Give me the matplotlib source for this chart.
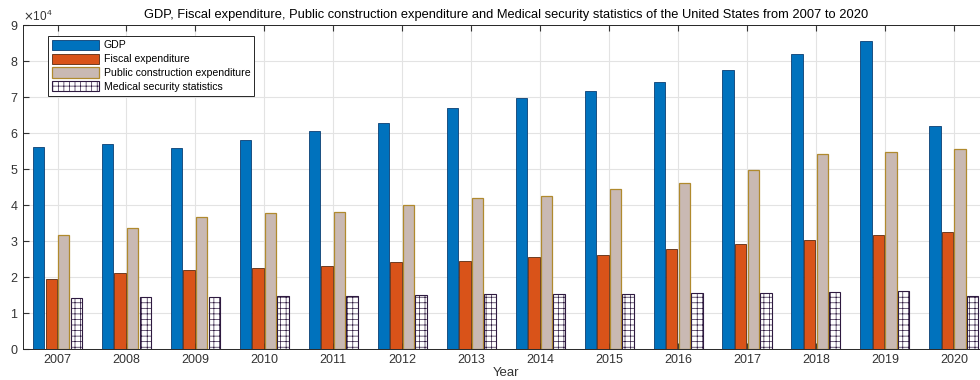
import numpy as np
import matplotlib
matplotlib.use('Agg')
import matplotlib.pyplot as plt
from matplotlib.ticker import ScalarFormatter

plt.rcParams['font.family'] = ['Liberation Sans', 'DejaVu Sans']
plt.rcParams['hatch.linewidth'] = 0.5

# Datos
years = np.arange(2007, 2021)
gdp = [56000, 57000, 55700, 58000, 60500, 62800, 67000, 69700, 71700, 74000, 77500, 82000, 85500, 62000]
fiscal = [19300, 21000, 22000, 22500, 23000, 24000, 24500, 25500, 26000, 27800, 29000, 30300, 31500, 32500]
public = [31500, 33500, 36500, 37800, 38000, 40000, 42000, 42500, 44500, 46000, 49700, 54000, 54700, 55500]
medical = [14200, 14300, 14500, 14700, 14700, 15000, 15200, 15300, 15300, 15600, 15600, 15800, 16000, 14800]

labels = ['GDP', 'Fiscal expenditure', 'Public construction expenditure', 'Medical security statistics']

fig = plt.figure(figsize=(9.8, 3.8), dpi=100)
ax = fig.add_axes([0.0235, 0.082, 0.985, 0.853])

w = 0.165
step = 0.182
ax.bar(years - 1.5*step, gdp, w, color='#0072BD', edgecolor='#0b3f73', linewidth=0.6, label=labels[0], zorder=3)
ax.bar(years - 0.5*step, fiscal, w, color='#D95319', edgecolor='#5a2a10', linewidth=0.6, label=labels[1], zorder=3)
ax.bar(years + 0.5*step, public, w, color='#C9B9B3', edgecolor='#B08A2E', linewidth=0.9, label=labels[2], zorder=3)
ax.bar(years + 1.5*step, medical, w, color='white', edgecolor='#2e1a40', hatch='+++', linewidth=0.8, label=labels[3], zorder=3)

ax.set_xlim(2006.5, 2020.5)
ax.set_ylim(0, 90000)
ax.set_xticks(years)
ax.set_xticklabels([str(y) for y in years])
ax.set_yticks(np.arange(0, 90001, 10000))

fmt = ScalarFormatter(useMathText=True)
fmt.set_powerlimits((4, 4))
ax.yaxis.set_major_formatter(fmt)
ax.yaxis.get_offset_text().set_fontsize(8.5)
ax.yaxis.get_offset_text().set_color('#555555')

ax.tick_params(direction='in', top=True, right=True, labelsize=9, colors='#333333', length=4)
ax.grid(True, color='#e3e3e3', linewidth=0.8, zorder=0)
for s in ax.spines.values():
    s.set_color('#262626')
    s.set_linewidth(0.7)

ax.set_xlabel('Year', fontsize=9.5, labelpad=1, color='#333333')
ax.set_title('GDP, Fiscal expenditure, Public construction expenditure and Medical security statistics of the United States from 2007 to 2020',
             fontsize=9.3, pad=5)

leg = ax.legend(loc='upper left', bbox_to_anchor=(0.026, 0.965), fontsize=7.6, fancybox=False,
                framealpha=1, edgecolor='#262626', borderpad=0.35, labelspacing=0.3,
                handlelength=4.5, handleheight=1.1, handletextpad=0.4, borderaxespad=0)
leg.get_frame().set_linewidth(0.7)

fig.savefig('out.png', dpi=100)
